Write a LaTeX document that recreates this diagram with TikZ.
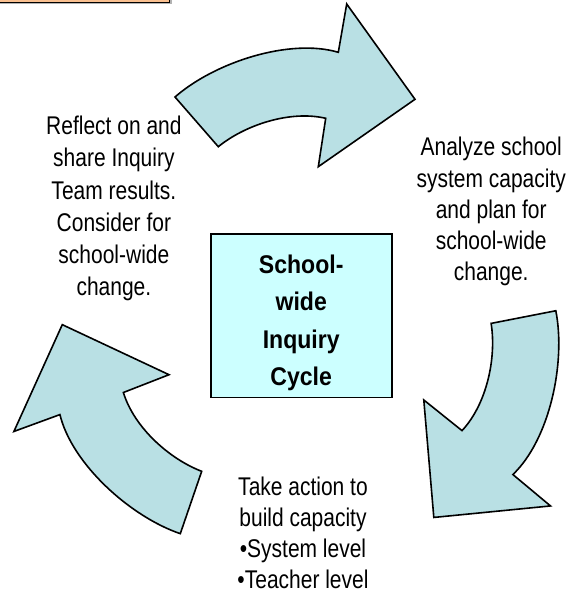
\documentclass[tikz,border=0pt]{standalone}
\usepackage{fontspec}
\setmainfont{Liberation Sans}[FakeStretch=0.82]
\newfontfamily\titlefont{Liberation Sans}[FakeStretch=0.9]

\definecolor{arrowblue}{RGB}{185,224,228}
\definecolor{boxcyan}{RGB}{204,255,255}
\definecolor{noteorange}{RGB}{250,192,144}

\tikzset{every picture/.style={line width=0.75pt}}
\tikzset{
  cyclearrow/.style={draw=black, fill=arrowblue, line width=1.2pt, line join=miter},
  cyclebox/.style={draw=black, fill=boxcyan, line width=1.3pt, minimum width=135.75pt, minimum height=122.6pt, inner sep=0pt},
  steptext/.style={anchor=north, align=center, inner sep=0pt, font=\fontsize{19.2}{23.4}\selectfont},
  titletext/.style={anchor=north, align=center, inner sep=0pt, font=\titlefont\bfseries\fontsize{19.2}{27.9}\selectfont},
}

\begin{document}
\begin{tikzpicture}[x=0.75pt,y=0.75pt,yscale=-1,xscale=1]
		\useasboundingbox (0,0) rectangle (577,599);
		\clip (0,0) rectangle (577,599);
		
		%Shape: Rectangle, cut off at the top
		\fill [gray!60] (-18,-28) rectangle (171.7,4.3) ;
		\draw [fill=noteorange, line width=1pt] (-20,-30) rectangle (169.7,2.7) ;
		
		%Shape: Circular Arrow, top
		\draw [cyclearrow] (175,97) .. controls (215,62) and (290,38) .. (338.3,52.3) -- (346.7,4) -- (415,99.3) -- (318.3,166.7) -- (325.7,118.3) .. controls (290,110) and (245,125) .. (218.3,146.7) -- cycle ;
		%Shape: Circular Arrow, right
		\draw [cyclearrow, rotate around={120:(303.7,313.8)}] (175,97) .. controls (215,62) and (290,38) .. (338.3,52.3) -- (346.7,4) -- (415,99.3) -- (318.3,166.7) -- (325.7,118.3) .. controls (290,110) and (245,125) .. (218.3,146.7) -- cycle ;
		%Shape: Circular Arrow, left
		\draw [cyclearrow, rotate around={240:(303.7,313.8)}] (175,97) .. controls (215,62) and (290,38) .. (338.3,52.3) -- (346.7,4) -- (415,99.3) -- (318.3,166.7) -- (325.7,118.3) .. controls (290,110) and (245,125) .. (218.3,146.7) -- cycle ;
		
		%Shape: Rectangle
		\node [cyclebox] (cycle) at (301.2,315.75) {};
		
		\node [titletext] (title) at (301.2,254.6) {School-\\wide\\Inquiry\\Cycle};
		\node [steptext, font=\fontsize{19.2}{24.1}\selectfont] (reflect) at (113.9,115.8) {Reflect on and\\share Inquiry\\Team results.\\Consider for\\school-wide\\change.};
		\node [steptext] (analyze) at (491.2,136.8) {Analyze school\\system capacity\\and plan for\\school-wide\\change.};
		\node [steptext] (action) at (303,476.3) {Take action to\\build capacity\\•System level\\•Teacher level};
		
\end{tikzpicture}
\end{document}
